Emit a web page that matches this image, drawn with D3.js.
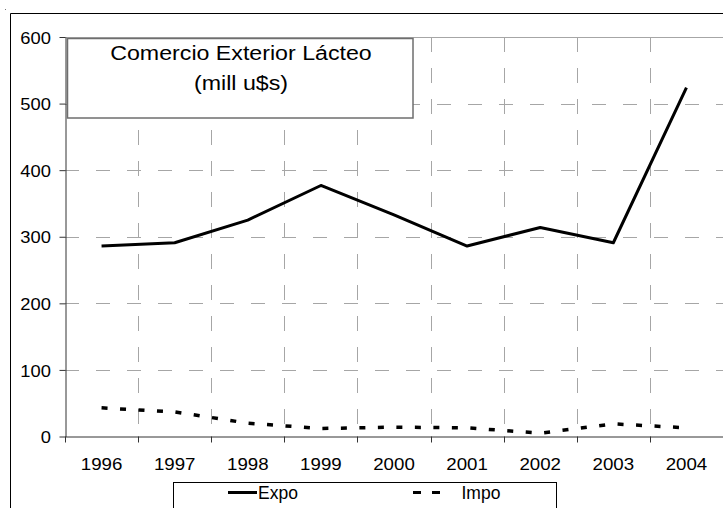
<!DOCTYPE html>
<html>
<head>
<meta charset="utf-8">
<script src="https://cdn.jsdelivr.net/npm/d3@7"></script>
<style>
  html, body { margin: 0; padding: 0; background: #fff; }
  svg { display: block; }
  text { font-family: "Liberation Sans", Arial, sans-serif; fill: #000; }
</style>
</head>
<body>
<svg id="chart" width="723" height="508"></svg>
<script>
// ---- data ----
const years = ["1996","1997","1998","1999","2000","2001","2002","2003","2004"];
const expo  = [286, 291, 325, 377, 333, 286, 314, 291, 524];
const impo  = [43, 37, 20, 12, 14, 13, 5, 19, 13];
const yTicks = [0, 100, 200, 300, 400, 500, 600];
const titleLines = ["Comercio Exterior Lácteo", "(mill u$s)"];
const seriesNames = ["Expo", "Impo"];

const svg = d3.select("#chart");

// plot geometry
const L = 65, R = 723, T = 37, B = 436.5;

const x = d3.scaleBand().domain(years).range([L, R]).paddingInner(0).paddingOuter(0);
const y = d3.scaleLinear().domain([0, 600]).range([B, T]);

// outer chart border (partially visible)
svg.append("path").attr("d", `M10.5,${508} V13.5 H723`)
  .attr("fill", "none").attr("stroke", "#000").attr("stroke-width", 1);
svg.append("rect").attr("x", 5).attr("y", 9).attr("width", 1).attr("height", 1).attr("fill", "#777");

// gridlines horizontal
const gridColor = "#a6a6a6";
svg.append("g").selectAll("line").data(yTicks.filter(v => v > 0 && v < 600)).join("line")
  .attr("x1", L).attr("x2", R)
  .attr("y1", d => Math.round(y(d)) + 0.5).attr("y2", d => Math.round(y(d)) + 0.5)
  .attr("stroke", gridColor).attr("stroke-width", 1).attr("stroke-dasharray", "14,17");
// top border at 600 (solid)
svg.append("line").attr("x1", L).attr("x2", R)
  .attr("y1", Math.round(y(600)) + 0.5).attr("y2", Math.round(y(600)) + 0.5)
  .attr("stroke", gridColor).attr("stroke-width", 1);

// gridlines vertical at category boundaries
const bounds = years.slice(1).map(d => x(d));
svg.append("g").selectAll("line").data(bounds).join("line")
  .attr("x1", d => Math.round(d) + 0.5).attr("x2", d => Math.round(d) + 0.5)
  .attr("y1", T).attr("y2", B)
  .attr("stroke", gridColor).attr("stroke-width", 1).attr("stroke-dasharray", "15,16");

// Y axis
const yAxis = svg.append("g").attr("transform", `translate(${L + 0.5},0)`)
  .call(d3.axisLeft(y).tickValues(yTicks).tickSize(6).tickPadding(9).tickSizeOuter(0));
yAxis.select(".domain").attr("stroke", "#333");
yAxis.selectAll(".tick line").attr("stroke", "#333");
yAxis.selectAll(".tick text")
  .attr("font-size", 17).attr("font-family", "Liberation Sans, Arial, sans-serif")
  .attr("x", 0).attr("dy", "0.36em")
  .attr("transform", "translate(-14.5,0) scale(1.08,1)");

// X axis
const xAxis = svg.append("g").attr("transform", `translate(0,${B})`)
  .call(d3.axisBottom(x).tickSize(0).tickPadding(0).tickSizeOuter(0));
xAxis.select(".domain").attr("stroke", "#333");
xAxis.selectAll(".tick text")
  .attr("font-size", 17).attr("font-family", "Liberation Sans, Arial, sans-serif")
  .attr("y", 0).attr("dy", 0)
  .attr("transform", "translate(0,33.5) scale(1.1,1)");
// x tick marks at category boundaries
svg.append("g").selectAll("line").data([L].concat(bounds)).join("line")
  .attr("x1", d => Math.round(d) + 0.5).attr("x2", d => Math.round(d) + 0.5)
  .attr("y1", B).attr("y2", B + 6)
  .attr("stroke", "#333").attr("stroke-width", 1);

// lines
const line = d3.line()
  .x((d, i) => x(years[i]) + x.bandwidth() / 2)
  .y(d => y(d));

svg.append("path").datum(impo).attr("d", line)
  .attr("fill", "none").attr("stroke", "#000").attr("stroke-width", 3.5)
  .attr("stroke-dasharray", "6,12.5");
svg.append("path").datum(expo).attr("d", line)
  .attr("fill", "none").attr("stroke", "#000").attr("stroke-width", 3)
  .attr("stroke-linejoin", "round");

// title box
const tb = svg.append("g");
tb.append("rect").attr("x", 67.5).attr("y", 38.5).attr("width", 345.5).attr("height", 79.5)
  .attr("fill", "#fff").attr("stroke", "#6e6e6e").attr("stroke-width", 1.5);
tb.selectAll("g.tl").data(titleLines).join("g").attr("class", "tl")
  .attr("transform", (d, i) => `translate(241,${60 + i * 29.5}) scale(1.16,1)`)
  .append("text").attr("text-anchor", "middle").attr("font-size", 20).text(d => d);

// legend
const lg = svg.append("g");
lg.append("rect").attr("x", 173.5).attr("y", 482.5).attr("width", 383).attr("height", 40)
  .attr("fill", "#fff").attr("stroke", "#000").attr("stroke-width", 1);
const legendItems = [
  { name: seriesNames[0], x1: 228, x2: 257, dash: null, tx: 258 },
  { name: seriesNames[1], x1: 413, x2: 441, dash: "8,11", tx: 461.5 }
];
const li = lg.selectAll("g.li").data(legendItems).join("g").attr("class", "li");
li.append("line").attr("x1", d => d.x1).attr("x2", d => d.x2)
  .attr("y1", 492.5).attr("y2", 492.5)
  .attr("stroke", "#000").attr("stroke-width", 3)
  .attr("stroke-dasharray", d => d.dash);
li.append("text").attr("x", d => d.tx).attr("y", 498.5).attr("font-size", 17.5).text(d => d.name);
</script>
</body>
</html>
